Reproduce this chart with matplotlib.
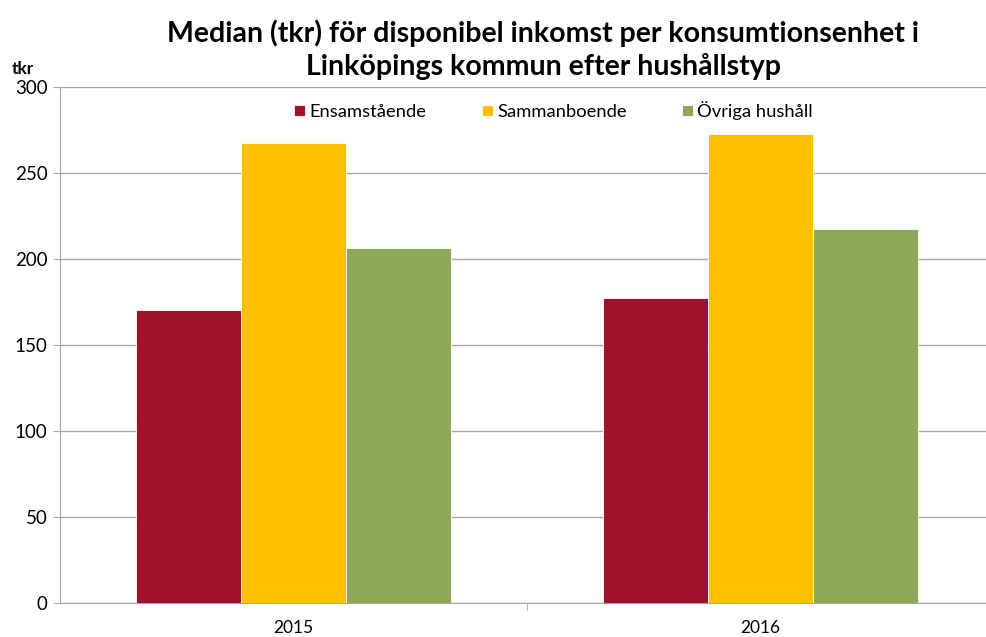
import numpy as np
import matplotlib
matplotlib.use('Agg')
import matplotlib.pyplot as plt

plt.rcParams['font.family'] = ['Lato', 'DejaVu Sans']

years = ['2015', '2016']
series = ['Ensamstående', 'Sammanboende', 'Övriga hushåll']
ensam = [170.3, 177.2]
samman = [267.6, 272.9]
ovriga = [206.4, 217.6]
colors = ['#A0122A', '#FFC000', '#8EA85A']

fig = plt.figure(figsize=(9.86, 6.37), dpi=100)
ax = fig.add_axes([60/986, 1-603/637, 926/986, 516/637])

x = np.arange(len(years))
w = 0.225
for i, (vals, c, lab) in enumerate(zip([ensam, samman, ovriga], colors, series)):
    ax.bar(x + (i-1)*w, vals, w, color=c, label=lab, edgecolor='white', linewidth=0.6, zorder=3)

ax.set_xlim(-0.5, 1.483)
ax.set_ylim(0, 300)
ax.set_yticks(range(0, 301, 50))
ax.yaxis.grid(True, color='#A6A6A6', linewidth=1, zorder=0)
ax.set_xticks(x)
ax.set_xticklabels(years)
ax.set_xticks([0.5], minor=True)
ax.tick_params(axis='x', which='major', length=0, pad=12, labelsize=12.5)
ax.tick_params(axis='x', which='minor', length=5, color='#A6A6A6')
ax.tick_params(axis='y', length=5, color='#A6A6A6', labelsize=13.5, pad=4)
for s in ['top', 'right']:
    ax.spines[s].set_visible(False)
ax.spines['left'].set_color('#A6A6A6')
ax.spines['bottom'].set_color('#A6A6A6')

ax.legend(loc='upper center', bbox_to_anchor=(0.533, 1.005), ncol=3, frameon=False,
          fontsize=13.2, handlelength=0.6, handleheight=0.6, handletextpad=0.25,
          columnspacing=3.0)

fig.text(543/986, 1-33/637, 'Median (tkr) för disponibel inkomst per konsumtionsenhet i',
         ha='center', va='center', fontsize=20.5, fontweight='bold')
fig.text(543/986, 1-67/637, 'Linköpings kommun efter hushållstyp',
         ha='center', va='center', fontsize=20.5, fontweight='bold')
fig.text(12/986, 1-69/637, 'tkr', ha='left', va='center', fontsize=12.5, fontweight='bold')

fig.savefig('out.png', dpi=100)
